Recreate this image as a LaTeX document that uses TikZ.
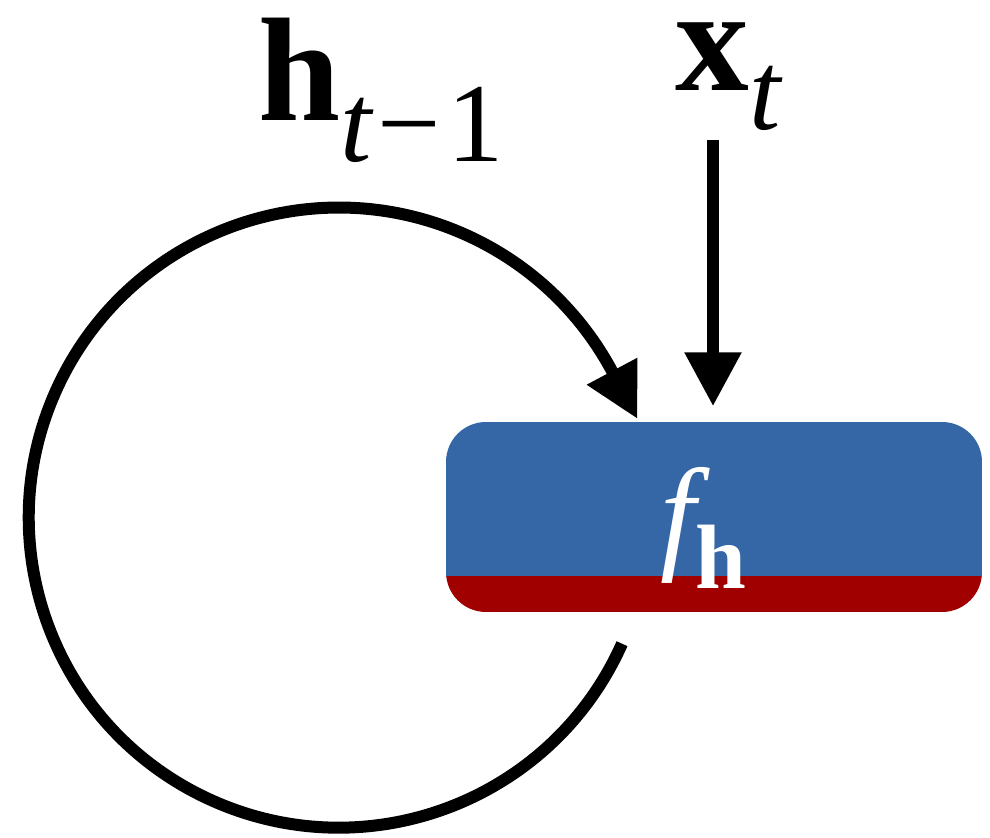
\documentclass[tikz,border=0pt]{standalone}
\usepackage{amsmath, amssymb}
\usepackage{fontspec}
\newfontfamily\tms{Liberation Serif}
\usepackage{tikz}
\usetikzlibrary{arrows.meta,calc}
\usepackage{xcolor}
\definecolor{cellblue}{RGB}{53,103,166}
\definecolor{cellred}{RGB}{160,0,0}
% labels in a Times-like face, subscripts set by hand
\newcommand{\lblsize}{\fontsize{42}{48}\selectfont}
\newcommand{\subsize}{\fontsize{32}{36}\selectfont}
\newcommand{\hvec}{{\tms\bfseries h}}
\newcommand{\xvec}{{\tms\bfseries x}}

\begin{document}
\begin{tikzpicture}[
    arr/.style={line width=0.12cm, -{Triangle[length=0.54cm, width=0.54cm]}},
    cellbox/.style={rounded corners=0.4cm,
      minimum width=5.36cm, minimum height=1.90cm, inner sep=0pt}
  ]

    % Page frame
    \useasboundingbox (0,0) rectangle (9.90,8.37);

    % Cell (blue with red bottom strip)
    \node[cellbox, path picture={
        \fill[cellblue, sharp corners] ([yshift=0.36cm]path picture bounding box.south west)
          rectangle (path picture bounding box.north east);
        \fill[cellred, sharp corners] (path picture bounding box.south west)
          rectangle ([yshift=0.36cm]path picture bounding box.south east);
      }] (cell) at (7.14,3.20) {};
    \node[white, anchor=base west, inner sep=0pt]
      (flbl) at (6.60,2.80)
      {\fontsize{36}{40}\selectfont\tms\itshape f\raisebox{-0.32cm}{\fontsize{26}{30}\selectfont\upshape\bfseries h}};

    % Inputs (top)
    \node[anchor=base west, inner sep=0pt, font=\lblsize]
      (hprev) at (2.58,7.16)
      {\hvec\raisebox{-0.41cm}{\subsize\tms\itshape t\upshape\hspace{0.05cm}−\hspace{0.07cm}1}};
    \node[anchor=base west, inner sep=0pt, font=\lblsize]
      (xt) at (6.75,7.46)
      {\xvec\raisebox{-0.39cm}{\subsize\tms\itshape t}};

    % x_t into the cell
    \coordinate (xin) at (7.13,6.97);
    \draw[arr, shorten >=0.15cm] (xin) -- (xin |- cell.north);

    % Recurrent loop
    \coordinate (loopstart) at ([shift={(-0.92,-0.31)}]cell.south);
    \draw[arr] (loopstart) arc[start angle=-24, end angle=-332, radius=3.1]
      -- ++(-62:0.53);

\end{tikzpicture}
\end{document}
